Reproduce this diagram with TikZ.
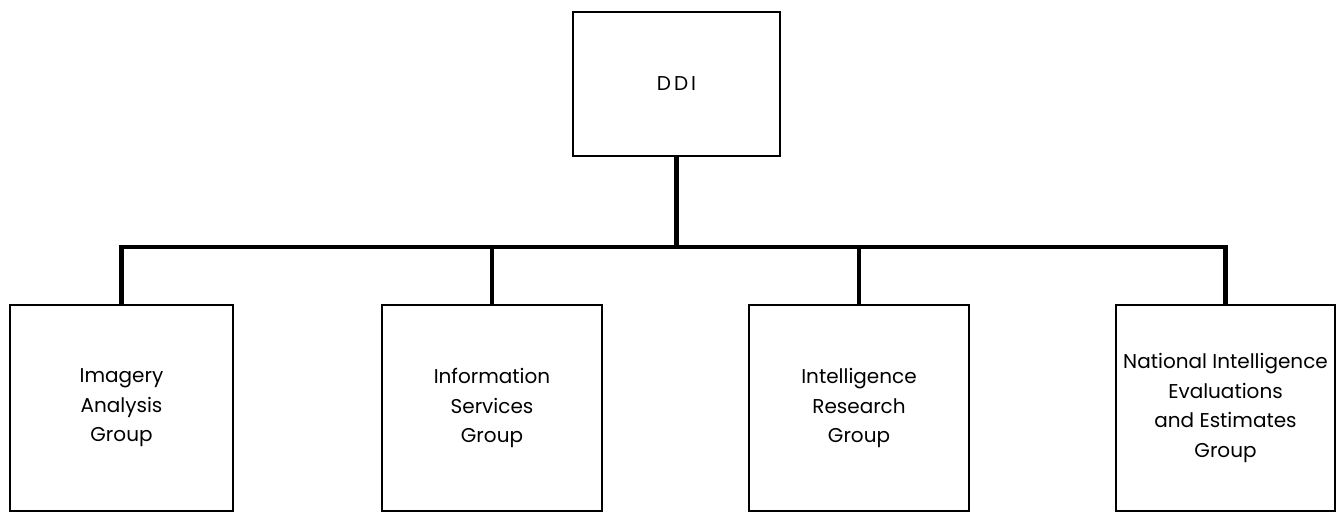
\documentclass[tikz,border=0pt]{standalone}
\usepackage{fontspec}
\setmainfont{Poppins}
\begin{document}
\begin{tikzpicture}[x=1pt,y=-1pt,
  orgbox/.style={draw, line width=2pt, minimum width=#1, minimum height=206pt,
    inner sep=0pt, align=center, font=\fontsize{20}{29.5}\selectfont},
  topbox/.style={draw, line width=2pt, minimum width=207pt, minimum height=144pt,
    inner sep=0pt, align=center, font=\fontsize{20}{29.5}\selectfont},
  conn/.style={line width=4.5pt, line join=miter}]
\useasboundingbox (0,0) rectangle (1337,512);
\node[topbox] (ddi) at (676.5,84) {D\hspace{3pt}D\hspace{3pt}I};
\node[orgbox=223pt] (b1) at (121.5,408) {Imagery\\Analysis\\Group};
\node[orgbox=220pt] (b2) at (492,408) {Information\\Services\\Group};
\node[orgbox=220pt] (b3) at (859,408) {Intelligence\\Research\\Group};
\node[orgbox=219pt] (b4) at (1225.5,408) {National Intelligence\\Evaluations\\and Estimates\\Group};
\coordinate (bar) at (676.5,247);
\draw[conn] (ddi.south) -- (ddi.south |- bar);
\draw[conn] (b1.north) |- (bar) -| (b4.north);
\draw[conn] (b2.north) -- (b2.north |- bar);
\draw[conn] (b3.north) -- (b3.north |- bar);
\end{tikzpicture}
\end{document}
